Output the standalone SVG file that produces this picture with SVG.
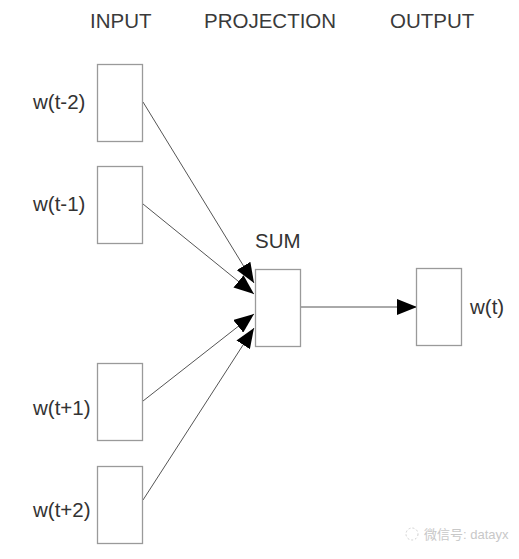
<svg xmlns="http://www.w3.org/2000/svg" width="519" height="559" viewBox="0 0 519 559">
<style>
.box{fill:#fff;stroke:#9a9a9a;stroke-width:1.3}
.lbl{font-family:"Liberation Sans",Arial,sans-serif;font-size:20.5px;fill:#333}
.hdr{font-family:"Liberation Sans",Arial,sans-serif;font-size:20.5px;fill:#3a3a3a}
.edge{stroke:#555;stroke-width:1;fill:none}
.wm{font-family:"Liberation Sans","Noto Sans CJK SC",sans-serif;font-size:13px;fill:#c8c8c8}
</style>
<defs>
<marker id="arr" markerUnits="userSpaceOnUse" markerWidth="22" markerHeight="16" refX="20" refY="8" orient="auto">
<path d="M0,0 L20,8 L0,16 Z" fill="#000"/>
</marker>
</defs>
<rect width="519" height="559" fill="#fff"/>
<text class="hdr" x="90" y="28">INPUT</text>
<text class="hdr" x="204" y="28">PROJECTION</text>
<text class="hdr" x="390" y="28">OUTPUT</text>
<g id="connectors">
<line class="edge" x1="143" y1="102" x2="254" y2="283" marker-end="url(#arr)"/>
<line class="edge" x1="143" y1="204" x2="254" y2="294" marker-end="url(#arr)"/>
<line class="edge" x1="143" y1="401" x2="254" y2="314" marker-end="url(#arr)"/>
<line class="edge" x1="143" y1="500" x2="254" y2="328" marker-end="url(#arr)"/>
<line class="edge" x1="300" y1="307" x2="417" y2="307" marker-end="url(#arr)"/>
</g>
<g id="in1"><rect class="box" x="97.5" y="64.5" width="45" height="77"/><text class="lbl" x="33" y="109">w(t-2)</text></g>
<g id="in2"><rect class="box" x="97.5" y="166.5" width="45" height="77"/><text class="lbl" x="33" y="211">w(t-1)</text></g>
<g id="in3"><rect class="box" x="97.5" y="363.5" width="45" height="77"/><text class="lbl" x="33" y="415">w(t+1)</text></g>
<g id="in4"><rect class="box" x="97.5" y="466.5" width="45" height="77"/><text class="lbl" x="33" y="517">w(t+2)</text></g>
<g id="sum"><rect class="box" x="255.5" y="269.5" width="45" height="77"/><text class="lbl" x="255" y="248">SUM</text></g>
<g id="out"><rect class="box" x="416.5" y="268.5" width="45" height="77"/><text class="lbl" x="470" y="314">w(t)</text></g>
<g id="watermark">
<circle cx="412" cy="534" r="6" fill="none" stroke="#d0d0d0" stroke-width="1" stroke-dasharray="2 2"/>
<text class="wm" x="424" y="539">微信号: datayx</text>
</g>
</svg>
